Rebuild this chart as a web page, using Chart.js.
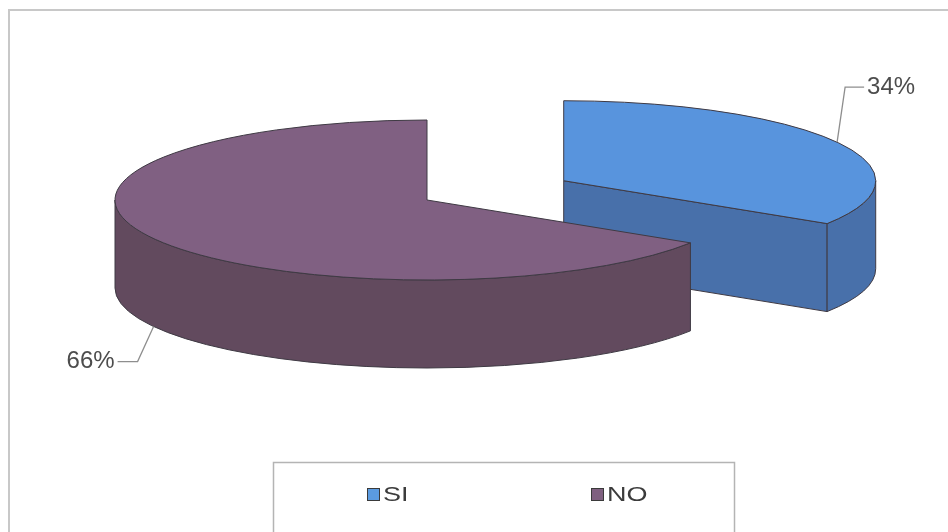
<!DOCTYPE html>
<html><head><meta charset="utf-8">
<script src="https://cdn.jsdelivr.net/npm/chart.js@4.4.0/dist/chart.umd.min.js"></script>
<style>html,body{margin:0;padding:0;background:#fff;overflow:hidden}canvas{display:block}</style>
</head><body>
<canvas id="c" width="948" height="532"></canvas>
<script>
// ---- data ----
const categories = ['SI', 'NO'];
const values = [34, 66];
const percentLabels = ['34%', '66%'];

// ---- styles ----
const topColors = ['#5894dd', '#806082'];
const sideColors = ['#4870aa', '#624a5e'];
const legendColors = ['#5b9be0', '#7f6080'];
const OUTLINE = '#3f3a44';
const RADIUS = 312, TILT = 80 / 312, DEPTH = 88;
const CENTER = {x: 427, y: 200};
const EXPLODE = [156, 0];
const LABEL_FONT = '24px "Liberation Sans", Arial, sans-serif';
const LEGEND_FONT = '20px "Liberation Sans", Arial, sans-serif';

function sliceGeom(el, i) {
  const p = el.getProps(['x', 'y', 'startAngle', 'endAngle', 'outerRadius'], true);
  const mid = (p.startAngle + p.endAngle) / 2;
  const d = EXPLODE[i];
  return {
    p, mid, r: p.outerRadius,
    cx: CENTER.x + d * Math.cos(mid),
    cy: CENTER.y + TILT * d * Math.sin(mid)
  };
}

const pie3d = {
  id: 'pie3d',
  beforeDraw(chart) {
    const ctx = chart.ctx;
    ctx.save();
    ctx.fillStyle = '#fff';
    ctx.fillRect(0, 0, chart.width, chart.height);
    ctx.strokeStyle = '#c8c8c8';
    ctx.lineWidth = 2;
    ctx.beginPath();
    ctx.moveTo(9, 532); ctx.lineTo(9, 10); ctx.lineTo(948, 10);
    ctx.stroke();
    ctx.restore();
  },
  beforeDatasetsDraw(chart) {
    const ctx = chart.ctx;
    const meta = chart.getDatasetMeta(0);
    meta.data.forEach((el, i) => {
      const {p, r, cx, cy} = sliceGeom(el, i);
      const ry = TILT * r;
      const s = p.startAngle, e = p.endAngle;
      ctx.save();
      ctx.lineWidth = 1;
      ctx.lineJoin = 'round';
      ctx.strokeStyle = OUTLINE;
      ctx.fillStyle = sideColors[i];
      // radial faces facing viewer
      const faces = [];
      if (Math.cos(s) < -1e-6) faces.push(s);
      if (Math.cos(e) > 1e-6) faces.push(e);
      faces.forEach(a => {
        const ex = cx + r * Math.cos(a), ey = cy + ry * Math.sin(a);
        ctx.beginPath();
        ctx.moveTo(cx, cy); ctx.lineTo(ex, ey);
        ctx.lineTo(ex, ey + DEPTH); ctx.lineTo(cx, cy + DEPTH);
        ctx.closePath(); ctx.fill(); ctx.stroke();
      });
      // outer wall (front half only)
      for (let n = -1; n <= 1; n++) {
        const lo = Math.max(s, 2 * Math.PI * n);
        const hi = Math.min(e, 2 * Math.PI * n + Math.PI);
        if (hi > lo) {
          ctx.beginPath();
          ctx.ellipse(cx, cy, r, ry, 0, lo, hi, false);
          ctx.ellipse(cx, cy + DEPTH, r, ry, 0, hi, lo, true);
          ctx.closePath(); ctx.fill(); ctx.stroke();
        }
      }
      // top face drawn by Chart.js arc element, projected
      ctx.save();
      ctx.translate(cx, cy);
      ctx.scale(1, TILT);
      ctx.translate(-p.x, -p.y);
      el.draw(ctx, chart.chartArea);
      ctx.restore();
      ctx.beginPath();
      ctx.moveTo(cx, cy);
      ctx.ellipse(cx, cy, r, ry, 0, s, e, false);
      ctx.closePath();
      ctx.stroke();
      ctx.restore();
    });
    return false;
  },
  afterDraw(chart) {
    const ctx = chart.ctx;
    const meta = chart.getDatasetMeta(0);
    // data labels with leader lines
    meta.data.forEach((el, i) => {
      const {mid, r, cx, cy} = sliceGeom(el, i);
      const ry = TILT * r;
      const front = Math.sin(mid) > 0;
      const ax = cx + r * Math.cos(mid);
      const ay = cy + ry * Math.sin(mid) + (front ? DEPTH : 0);
      const right = Math.cos(mid) > 0;
      const bx = ax + (right ? 8 : -16);
      const by = ay + (front ? 35 : -55);
      const tx = bx + (right ? 19 : -20);
      ctx.save();
      ctx.strokeStyle = '#8e8e8e';
      ctx.lineWidth = 1.3;
      ctx.beginPath();
      ctx.moveTo(ax, ay); ctx.lineTo(bx, by); ctx.lineTo(tx, by);
      ctx.stroke();
      ctx.fillStyle = '#4d4d4d';
      ctx.font = LABEL_FONT;
      ctx.textBaseline = 'middle';
      ctx.textAlign = right ? 'left' : 'right';
      ctx.fillText(percentLabels[i], tx + (right ? 3 : -3), by);
      ctx.restore();
    });
    // legend box
    ctx.save();
    ctx.strokeStyle = '#b4b4b4';
    ctx.lineWidth = 1.5;
    ctx.strokeRect(273.5, 462.5, 461, 100);
    const itemX = [367, 591];
    categories.forEach((c, i) => {
      const x = itemX[i], y = 488;
      ctx.fillStyle = legendColors[i];
      ctx.fillRect(x, y, 13, 13);
      ctx.strokeStyle = '#3a3a3a';
      ctx.lineWidth = 1;
      ctx.strokeRect(x + 0.5, y + 0.5, 12, 12);
      ctx.save();
      ctx.translate(x + 16, y + 7);
      ctx.scale(1.35, 1);
      ctx.fillStyle = '#3c3c3c';
      ctx.font = LEGEND_FONT;
      ctx.textBaseline = 'middle';
      ctx.textAlign = 'left';
      ctx.fillText(c, 0, 0);
      ctx.restore();
    });
    ctx.restore();
  }
};

new Chart(document.getElementById('c'), {
  type: 'pie',
  data: {
    labels: categories,
    datasets: [{
      data: values,
      backgroundColor: topColors,
      borderWidth: 0,
      radius: RADIUS
    }]
  },
  options: {
    responsive: false,
    animation: false,
    events: [],
    layout: {padding: 0},
    plugins: {legend: {display: false}, tooltip: {enabled: false}}
  },
  plugins: [pie3d]
});
</script>
</body></html>
